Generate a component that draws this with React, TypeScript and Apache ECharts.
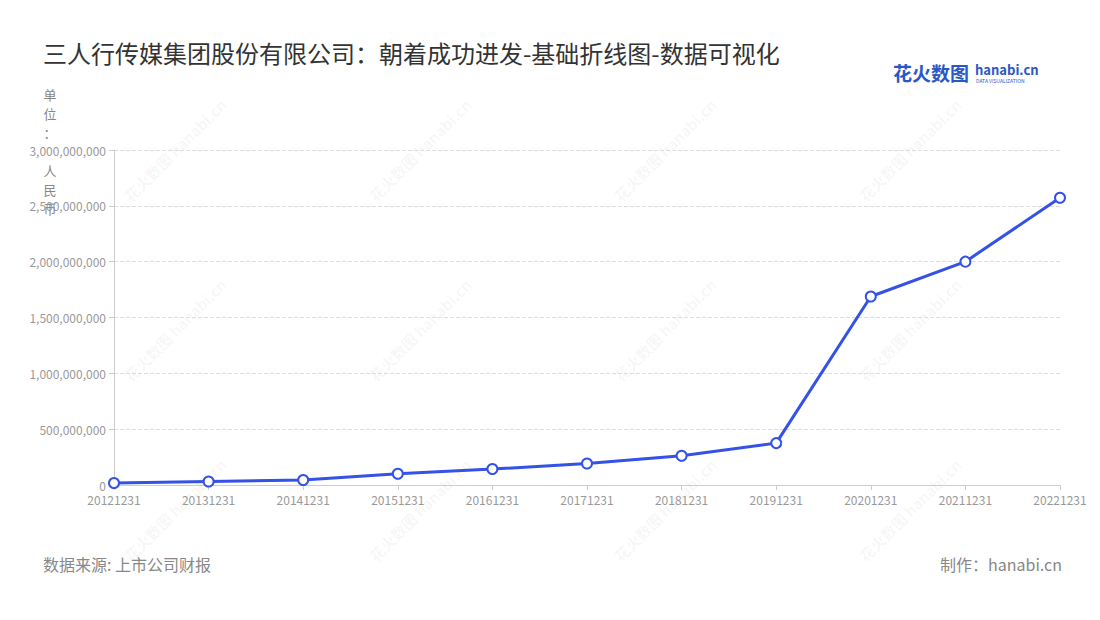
import React, { useEffect, useRef } from "react";
import * as echarts from "echarts";

const categories = ["20121231", "20131231", "20141231", "20151231", "20161231", "20171231", "20181231", "20191231", "20201231", "20211231", "20221231"];
const revenue = [18000000, 31000000, 45000000, 101000000, 143000000, 192000000, 262000000, 375000000, 1688000000, 2000000000, 2572000000];
const titleText = "三人行传媒集团股份有限公司：朝着成功进发-基础折线图-数据可视化";
const unitText = "单\n位\n：\n\n人\n民\n币";
const sourceText = "数据来源: 上市公司财报";
const makerText = "制作：hanabi.cn";

const FONT = "'Noto Sans CJK SC', 'Noto Sans', sans-serif";

export default function App() {
  const ref = useRef<HTMLDivElement>(null);
  useEffect(() => {
    if (!ref.current) return;
    const chart = echarts.init(ref.current, null, { renderer: "svg" });
    const watermarks: any[] = [];
    const wx = [175, 420, 665, 910];
    const wy = [150, 330, 510];
    wx.forEach((x) =>
      wy.forEach((y) => {
        watermarks.push({
          type: "text",
          x,
          y,
          rotation: Math.PI / 4,
          silent: true,
          z: 0,
          style: {
            text: "花火数图 hanabi.cn",
            fill: "rgba(0,0,0,0.05)",
            font: `bold 15px ${FONT}`,
            align: "center",
            verticalAlign: "middle",
          },
        });
      })
    );
    chart.setOption({
      animation: false,
      backgroundColor: "#fff",
      textStyle: { fontFamily: FONT },
      grid: { left: 114, right: 40, top: 150, bottom: 135, containLabel: false },
      xAxis: {
        type: "category",
        data: categories,
        boundaryGap: false,
        axisLine: { lineStyle: { color: "#ccc" } },
        axisTick: { show: true, alignWithLabel: true, lineStyle: { color: "#ccc" } },
        axisLabel: { color: "#999", fontSize: 12, interval: 0, margin: 8 },
      },
      yAxis: {
        type: "value",
        min: 0,
        max: 3000000000,
        interval: 500000000,
        axisLine: { show: true, lineStyle: { color: "#ccc" } },
        axisTick: { show: true, lineStyle: { color: "#ccc" } },
        axisLabel: {
          color: "#999",
          fontSize: 12,
          formatter: (v: number) => v.toLocaleString("en-US"),
        },
        splitLine: { lineStyle: { color: "#ddd", type: "dashed" } },
      },
      series: [
        {
          type: "line",
          data: revenue,
          symbol: "circle",
          symbolSize: 10,
          lineStyle: { color: "#3451e8", width: 3 },
          itemStyle: { color: "#fff", borderColor: "#3451e8", borderWidth: 2 },
          z: 5,
        },
      ],
      graphic: [
        ...watermarks,
        {
          type: "text",
          left: 43,
          top: 40,
          style: { text: titleText, fill: "#333", font: `24px ${FONT}` },
        },
        {
          type: "text",
          x: 50,
          y: 85,
          style: {
            text: unitText,
            fill: "#888",
            font: `13px ${FONT}`,
            lineHeight: 19,
            align: "center",
          },
        },
        {
          type: "text",
          x: 893,
          y: 72,
          style: { text: "花火数图", fill: "#2a57c8", font: `bold 19px ${FONT}`, verticalAlign: "middle" },
        },
        {
          type: "text",
          x: 975,
          y: 69,
          style: { text: "hanabi.cn", fill: "#2a57c8", font: `bold 13px ${FONT}`, verticalAlign: "middle" },
        },
        {
          type: "text",
          x: 976,
          y: 80,
          style: { text: "DATA VISUALIZATION", fill: "#2a57c8", font: `5px ${FONT}`, verticalAlign: "middle" },
        },
        {
          type: "text",
          left: 43,
          top: 556,
          style: { text: sourceText, fill: "#888", font: `16px ${FONT}` },
        },
        {
          type: "text",
          right: 38,
          top: 556,
          style: { text: makerText, fill: "#888", font: `16px ${FONT}` },
        },
      ],
    });
    return () => chart.dispose();
  }, []);
  return <div ref={ref} style={{ width: 1100, height: 620, marginLeft: -8, marginTop: -8 }} />;
}
